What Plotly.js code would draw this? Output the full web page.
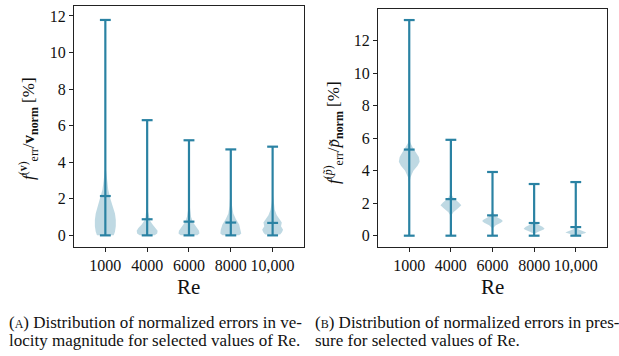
<!DOCTYPE html>
<html>
<head>
<meta charset="utf-8">
<script src="https://cdn.plot.ly/plotly-3.0.1.min.js"></script>
<style>html,body{margin:0;padding:0;background:#fff;}#chart{width:619px;height:356px;}</style>
</head>
<body>
<div id="chart"></div>
<script>
// ---- data ----
const categories = ['1000', '4000', '6000', '8000', '10,000'];
const positions = [1, 2, 3, 4, 5];

// (A) velocity magnitude errors [%]
const velMin = [0, 0, 0, 0, 0];
const velMax = [11.78, 6.3, 5.2, 4.7, 4.85];
const velMean = [2.15, 0.88, 0.75, 0.7, 0.68];
// violin density outlines: levels and half widths (category units)
const velLevels = [
  [0, 0.2, 0.5, 0.85, 1.2, 1.6, 2.0, 2.5, 3.0, 3.5, 3.8],
  [0, 0.1, 0.25, 0.4, 0.6, 0.8, 1.0, 1.3, 1.8],
  [0, 0.1, 0.25, 0.45, 0.7, 1.0, 1.4, 2.0],
  [0, 0.1, 0.3, 0.6, 0.9, 1.2, 1.6, 2.2, 2.8],
  [0.05, 0.15, 0.3, 0.5, 0.7, 0.9, 1.1, 1.4, 1.8, 2.4]
];
const velHalfWidths = [
  [0.2, 0.23, 0.25, 0.25, 0.23, 0.18, 0.12, 0.07, 0.04, 0.02, 0],
  [0.18, 0.24, 0.25, 0.21, 0.13, 0.07, 0.04, 0.02, 0],
  [0.2, 0.25, 0.24, 0.18, 0.1, 0.05, 0.02, 0],
  [0.2, 0.25, 0.24, 0.2, 0.12, 0.06, 0.03, 0.015, 0],
  [0.18, 0.22, 0.25, 0.2, 0.22, 0.17, 0.1, 0.05, 0.02, 0]
];

// (B) pressure errors [%]
const presMin = [0, 0, 0, 0, 0];
const presMax = [13.27, 5.9, 3.92, 3.18, 3.3];
const presMean = [5.3, 2.25, 1.25, 0.78, 0.53];
const presLevels = [
  [3.2, 3.6, 4.0, 4.3, 4.55, 4.85, 5.1, 5.4, 5.7, 6.0],
  [1.2, 1.45, 1.7, 1.87, 2.05, 2.3, 2.5, 2.7],
  [0.45, 0.65, 0.8, 0.9, 1.0, 1.15, 1.35, 1.6],
  [0.1, 0.25, 0.38, 0.45, 0.55, 0.7, 0.9],
  [0.0, 0.08, 0.15, 0.2, 0.28, 0.4, 0.55]
];
const presHalfWidths = [
  [0, 0.03, 0.1, 0.2, 0.25, 0.23, 0.17, 0.09, 0.03, 0],
  [0, 0.06, 0.18, 0.25, 0.19, 0.07, 0.02, 0],
  [0, 0.08, 0.2, 0.25, 0.21, 0.1, 0.03, 0],
  [0, 0.1, 0.23, 0.25, 0.2, 0.08, 0],
  [0, 0.1, 0.22, 0.25, 0.18, 0.06, 0]
];

const yTicks = [0, 2, 4, 6, 8, 10, 12];

const captionA = ['(<span style="font-size:12px">A</span>) Distribution of normalized errors in ve-',
                  'locity magnitude for selected values of Re.'];
const captionB = ['(<span style="font-size:12px">B</span>) Distribution of normalized errors in pres-',
                  'sure for selected values of Re.'];

// ---- styling ----
const lineColor = '#2a82a3';
const fillColor = 'rgba(42,130,163,0.30)';
const FONT = 'Liberation Serif';
const capHalf = 0.13;

function violinTraces(levels, halves, xa, ya) {
  return levels.map((lv, i) => {
    const p = positions[i];
    const xs = [], ys = [];
    for (let k = 0; k < lv.length; k++) { xs.push(p - halves[i][k]); ys.push(lv[k]); }
    for (let k = lv.length - 1; k >= 0; k--) { xs.push(p + halves[i][k]); ys.push(lv[k]); }
    return {
      type: 'scatter', mode: 'lines', x: xs, y: ys, fill: 'toself',
      fillcolor: fillColor, line: {width: 0, color: fillColor},
      xaxis: xa, yaxis: ya, hoverinfo: 'skip', showlegend: false
    };
  });
}

function statTrace(mins, maxs, means, xa, ya) {
  const xs = [], ys = [];
  positions.forEach((p, i) => {
    xs.push(p, p, null); ys.push(mins[i], maxs[i], null);
    [mins[i], maxs[i], means[i]].forEach(v => {
      xs.push(p - capHalf, p + capHalf, null); ys.push(v, v, null);
    });
  });
  return {
    type: 'scatter', mode: 'lines', x: xs, y: ys,
    line: {color: lineColor, width: 2.2},
    xaxis: xa, yaxis: ya, hoverinfo: 'skip', showlegend: false
  };
}

const data = [
  ...violinTraces(velLevels, velHalfWidths, 'x', 'y'),
  statTrace(velMin, velMax, velMean, 'x', 'y'),
  ...violinTraces(presLevels, presHalfWidths, 'x2', 'y2'),
  statTrace(presMin, presMax, presMean, 'x2', 'y2')
];

const axBase = {
  showline: true, mirror: true, linecolor: '#222', linewidth: 1.1,
  ticks: 'outside', ticklen: 4, tickwidth: 1, tickcolor: '#222',
  showgrid: false, zeroline: false,
  tickfont: {family: FONT, size: 16, color: '#111'}
};

function capAnn(text, xPx, yPx) {
  return {text: text, xref: 'paper', yref: 'paper', x: xPx / 619, y: 1 - yPx / 356,
    xanchor: 'left', yanchor: 'middle', align: 'left', showarrow: false,
    font: {family: FONT, size: 17, color: '#111'}};
}

const layout = {
  width: 619, height: 356,
  margin: {l: 0, r: 0, t: 0, b: 0},
  paper_bgcolor: '#fff', plot_bgcolor: '#fff',
  showlegend: false,
  font: {family: FONT, color: '#111'},
  xaxis: Object.assign({}, axBase, {domain: [0.1195, 0.4911], range: [0.25, 5.75],
    tickvals: positions, ticktext: categories, anchor: 'y'}),
  yaxis: Object.assign({}, axBase, {domain: [0.306, 0.983], range: [-0.64, 12.54],
    tickvals: yTicks, anchor: 'x'}),
  xaxis2: Object.assign({}, axBase, {domain: [0.6107, 0.9806], range: [0.25, 5.75],
    tickvals: positions, ticktext: categories, anchor: 'y2'}),
  yaxis2: Object.assign({}, axBase, {domain: [0.306, 0.9747], range: [-0.70, 13.95],
    tickvals: yTicks, anchor: 'x2'}),
  annotations: [
    {text: 'Re', xref: 'paper', yref: 'paper', x: (0.1195 + 0.4911) / 2, y: 1 - 287 / 356,
     xanchor: 'center', yanchor: 'middle', showarrow: false, font: {family: FONT, size: 21, color: '#111'}},
    {text: 'Re', xref: 'paper', yref: 'paper', x: (0.6107 + 0.9806) / 2, y: 1 - 287 / 356,
     xanchor: 'center', yanchor: 'middle', showarrow: false, font: {family: FONT, size: 21, color: '#111'}},
    {text: '<i>f</i><sup>(<b>v</b>)</sup><sub>err</sub>/<b>v</b><sub><b>norm</b></sub> [%]',
     xref: 'paper', yref: 'paper', x: 28 / 619, y: 1 - 129 / 356, textangle: -90,
     xanchor: 'center', yanchor: 'middle', showarrow: false, font: {family: FONT, size: 17, color: '#111'}},
    {text: '<i>f</i><sup>(<i>p̃</i>)</sup><sub>err</sub>/<i>p̃</i><sub><b>norm</b></sub> [%]',
     xref: 'paper', yref: 'paper', x: 333 / 619, y: 1 - 132 / 356, textangle: -90,
     xanchor: 'center', yanchor: 'middle', showarrow: false, font: {family: FONT, size: 17, color: '#111'}},
    capAnn(captionA[0], 7, 322), capAnn(captionA[1], 7, 340),
    capAnn(captionB[0], 313, 322), capAnn(captionB[1], 313, 340)
  ]
};

Plotly.newPlot('chart', data, layout, {staticPlot: true, displayModeBar: false});
</script>
</body>
</html>
